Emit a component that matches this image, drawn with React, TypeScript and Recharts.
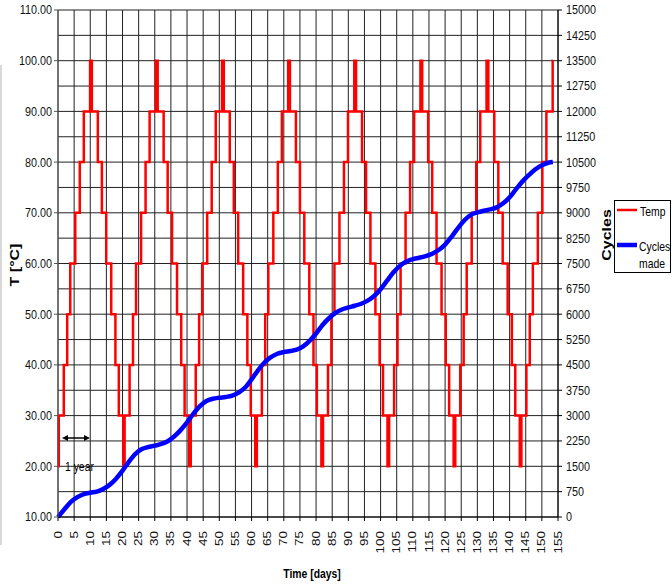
import React from 'react';
import { LineChart, Line, XAxis, YAxis, CartesianGrid } from 'recharts';

const FONT = '"Liberation Sans", Arial, Helvetica, sans-serif';

// x axis (days)
const xTicks = [0, 5, 10, 15, 20, 25, 30, 35, 40, 45, 50, 55, 60, 65, 70, 75, 80, 85, 90, 95, 100, 105, 110, 115, 120, 125, 130, 135, 140, 145, 150, 155];
// left axis (temperature)
const tempTicks = [10, 20, 30, 40, 50, 60, 70, 80, 90, 100, 110];
// right axis (cycles)
const cycleTicks = [0, 750, 1500, 2250, 3000, 3750, 4500, 5250, 6000, 6750, 7500, 8250, 9000, 9750, 10500, 11250, 12000, 12750, 13500, 14250, 15000];

// temperature profile: every cycle starts at these days ...
const tempCycleStarts = [0, 20.4, 40.9, 61.4, 81.9, 102.4, 122.9, 143.4];
// ... and steps at these offsets (days) to these levels (°C)
const tempStepOffsets = [0.25, 1.8, 2.85, 3.8, 5.35, 6.75, 8.0, 9.95, 10.5, 12.35, 13.6, 14.95, 16.5, 17.8, 18.85, 20.25];
const tempStepLevels = [30, 40, 50, 60, 70, 80, 90, 100, 90, 80, 70, 60, 50, 40, 30, 20];
const tempStartLevel = 20;
const tempEndDay = 153.4;

// cumulative cycles made
const cycleDays = [0, 2, 4, 6, 8, 10, 12, 14, 16, 18, 20, 22, 24, 26, 28, 30, 32, 34, 36, 38, 40, 42, 44, 46, 48, 50, 52, 54, 56, 58, 60, 62, 64, 66, 68, 70, 72, 74, 76, 78, 80, 82, 84, 86, 88, 90, 92, 94, 96, 98, 100, 102, 104, 106, 108, 110, 112, 114, 116, 118, 120, 122, 124, 126, 128, 130, 132, 134, 136, 138, 140, 142, 144, 146, 148, 150, 152, 153.4];
const cyclesMade = [0, 230, 450, 590, 680, 720, 750, 830, 950, 1130, 1370, 1640, 1870, 2010, 2070, 2110, 2160, 2240, 2380, 2570, 2800, 3060, 3280, 3430, 3500, 3530, 3550, 3590, 3680, 3830, 4070, 4340, 4570, 4730, 4830, 4880, 4910, 4950, 5050, 5210, 5430, 5680, 5880, 6040, 6140, 6200, 6250, 6310, 6400, 6540, 6740, 6990, 7240, 7430, 7560, 7630, 7670, 7720, 7790, 7900, 8060, 8290, 8550, 8780, 8940, 9010, 9060, 9100, 9160, 9280, 9460, 9700, 9930, 10120, 10290, 10410, 10480, 10500];

const buildTemp = () => {
  const pts: { day: number; temp: number }[] = [{ day: 0, temp: tempStartLevel }];
  let cur = tempStartLevel;
  outer: for (const s of tempCycleStarts) {
    for (let i = 0; i < tempStepOffsets.length; i++) {
      const d = +(s + tempStepOffsets[i]).toFixed(2);
      if (d > tempEndDay) break outer;
      pts.push({ day: d, temp: cur });
      cur = tempStepLevels[i];
      pts.push({ day: d, temp: cur });
    }
  }
  pts.push({ day: tempEndDay, temp: cur });
  return pts;
};

const tempData = buildTemp();
const cycleData = cycleDays.map((d, i) => ({ day: d, cycles: cyclesMade[i] }));

const LeftTick = (p: any) => (
  <text transform={`translate(${p.x},${p.y}) scale(0.8,1)`} textAnchor="end" dominantBaseline="central" fontSize={13.5} fontFamily={FONT} fill="#111">
    {Number(p.payload.value).toFixed(2)}
  </text>
);

const RightTick = (p: any) => (
  <text transform={`translate(${p.x},${p.y}) scale(0.8,1)`} textAnchor="start" dominantBaseline="central" fontSize={13.5} fontFamily={FONT} fill="#111">
    {p.payload.value}
  </text>
);

const BottomTick = (p: any) => (
  <text transform={`translate(${p.x},${p.y}) scale(0.8,1) rotate(-90)`} textAnchor="end" dominantBaseline="central" fontSize={13.5} fontFamily={FONT} fill="#111">
    {p.payload.value}
  </text>
);

const Overlay = () => (
  <svg width={672} height={585} style={{ position: 'absolute', left: 0, top: 0, pointerEvents: 'none' }}>
    <line x1={1} y1={65} x2={1} y2={545} stroke="#d8d8d8" strokeWidth={2} />
    {/* axis titles */}
    <text transform="translate(15,265) scale(0.8,1) rotate(-90)" textAnchor="middle" dominantBaseline="central" fontSize={16} fontWeight="bold" fontFamily={FONT}>T [°C]</text>
    <text transform="translate(607,235) scale(0.8,1) rotate(-90)" textAnchor="middle" dominantBaseline="central" fontSize={16} fontWeight="bold" fontFamily={FONT}>Cycles</text>
    <text transform="translate(312,573) scale(0.8,1)" textAnchor="middle" dominantBaseline="central" fontSize={13} fontWeight="bold" fontFamily={FONT}>Time [days]</text>
    {/* 1 year annotation */}
    <line x1={66} y1={438} x2={86} y2={438} stroke="#000" strokeWidth={1.5} />
    <polygon points="62,438 68,435 68,441" fill="#000" />
    <polygon points="90,438 84,435 84,441" fill="#000" />
    <text transform="translate(65,466) scale(0.8,1)" dominantBaseline="central" fontSize={13} fontFamily={FONT}>1 year</text>
    {/* legend */}
    <rect x={614.5} y={200.5} width={56} height={72} fill="#fff" stroke="#000" strokeWidth={1} />
    <line x1={617} y1={210} x2={637} y2={210} stroke="#ff0000" strokeWidth={2.5} />
    <text transform="translate(640,211.5) scale(0.8,1)" dominantBaseline="central" fontSize={13} fontFamily={FONT}>Temp</text>
    <line x1={617} y1={245} x2={637} y2={245} stroke="#0000ff" strokeWidth={4.5} />
    <text transform="translate(639,246.5) scale(0.8,1)" dominantBaseline="central" fontSize={13} fontFamily={FONT}>Cycles</text>
    <text transform="translate(639,263) scale(0.8,1)" dominantBaseline="central" fontSize={13} fontFamily={FONT}>made</text>
  </svg>
);

export default function App() {
  return (
    <div style={{ position: 'absolute', left: 0, top: 0, width: 672, height: 585, background: '#fff' }}>
      <LineChart width={672} height={585} margin={{ top: 10, right: 0, bottom: 0, left: 0 }}>
        <CartesianGrid yAxisId="right" stroke="#222" strokeOpacity={1} strokeWidth={1} />
        <XAxis
          type="number"
          dataKey="day"
          domain={[0, 155]}
          ticks={xTicks}
          interval={0}
          height={68}
          tickSize={4}
          tickMargin={10}
          stroke="#000"
          tick={(p: any) => <BottomTick {...p} />}
        />
        <YAxis
          yAxisId="left"
          orientation="left"
          domain={[10, 110]}
          ticks={tempTicks}
          interval={0}
          width={58}
          tickSize={4}
          tickMargin={2}
          stroke="#555"
          tick={(p: any) => <LeftTick {...p} />}
        />
        <YAxis
          yAxisId="right"
          orientation="right"
          domain={[0, 15000]}
          ticks={cycleTicks}
          interval={0}
          width={114}
          tickSize={4}
          tickMargin={4}
          stroke="#000"
          tick={(p: any) => <RightTick {...p} />}
        />
        <Line yAxisId="left" data={tempData} dataKey="temp" type="linear" stroke="#ff0000" strokeWidth={2.5} dot={false} isAnimationActive={false} />
        <Line yAxisId="right" data={cycleData} dataKey="cycles" type="monotone" stroke="#0000ff" strokeWidth={4.5} dot={false} isAnimationActive={false} />
      </LineChart>
      <Overlay />
    </div>
  );
}
